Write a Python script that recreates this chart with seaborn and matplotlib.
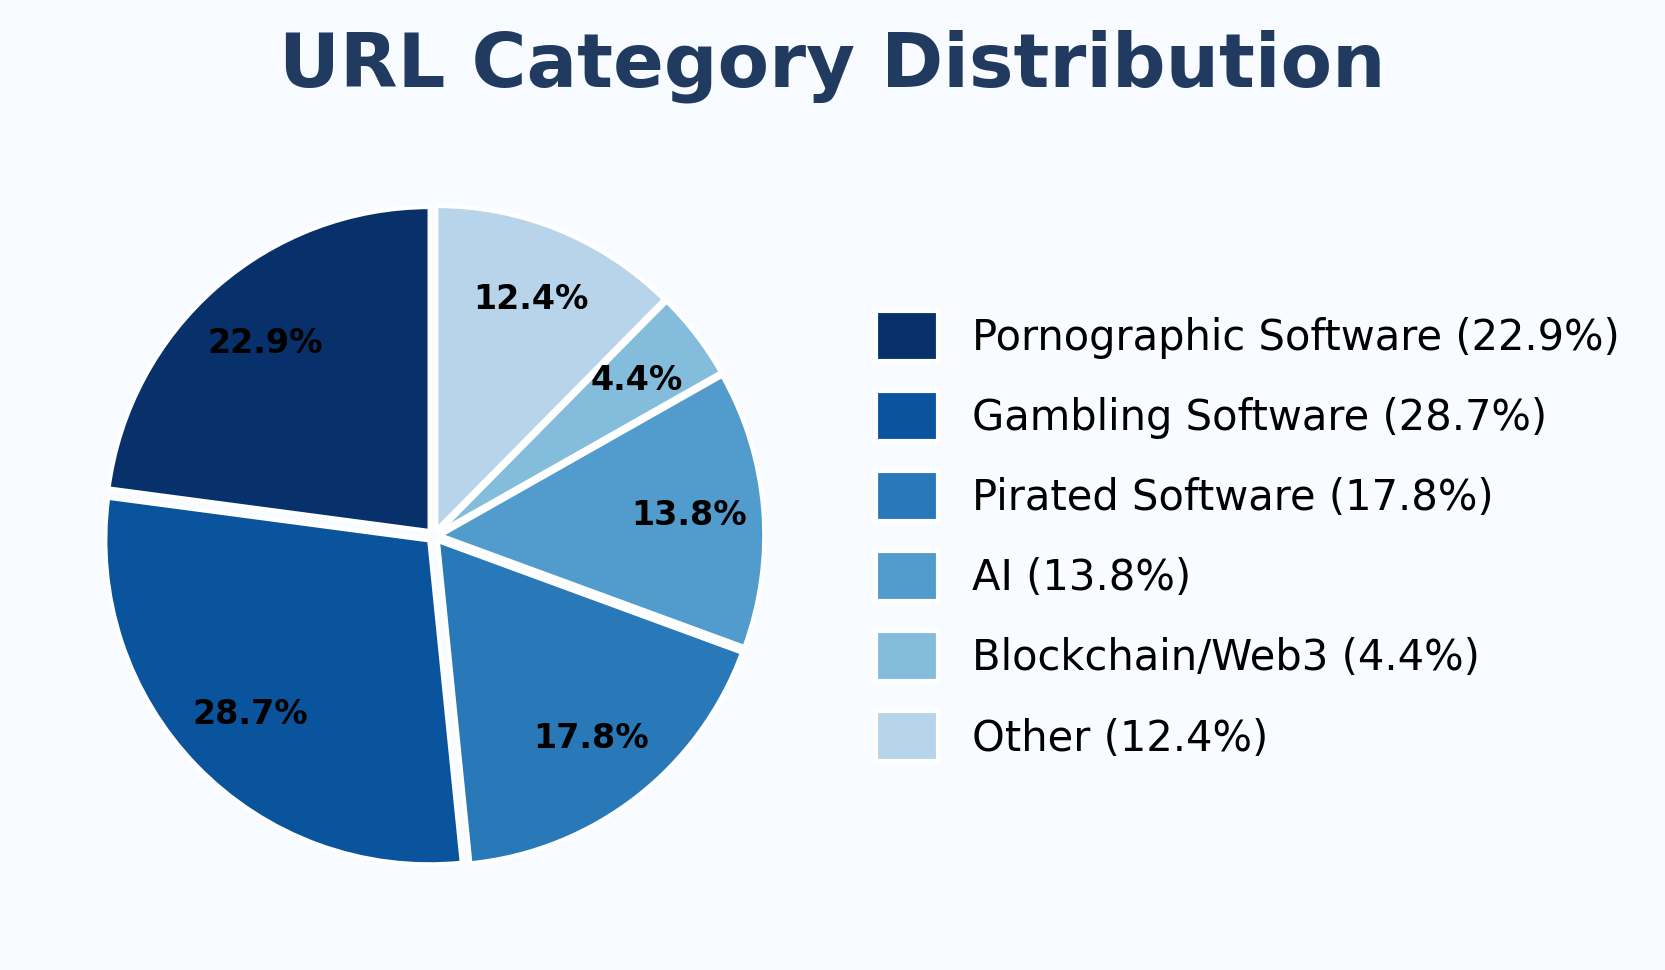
import numpy as np
import matplotlib
matplotlib.use("Agg")
import matplotlib.pyplot as plt
import seaborn as sns

# URL category shares (percent)
categories = ["Pornographic Software", "Gambling Software", "Pirated Software",
              "AI", "Blockchain/Web3", "Other"]
shares = [22.9, 28.7, 17.8, 13.8, 4.4, 12.4]

sns.set_theme(style="white")
plt.rcParams['font.family'] = ['DejaVu Sans']

bg = '#f8fbff'
colors = plt.cm.Blues(np.linspace(1.0, 0.3, len(shares)))
legend_labels = [f"{c} ({s}%)" for c, s in zip(categories, shares)]

fig = plt.figure(figsize=(11.1, 6.47), dpi=150, facecolor=bg)
ax = fig.add_axes([0.0466, 0.08, 0.428, 0.7346])
ax.set_facecolor(bg)

wedges, texts, autotexts = ax.pie(
    shares,
    colors=colors,
    startangle=90,
    explode=[0.02] * len(shares),
    autopct='%1.1f%%',
    pctdistance=0.77,
    wedgeprops=dict(edgecolor='white', linewidth=2),
    textprops=dict(fontsize=16, fontweight='bold', color='black'),
)
ax.set_xlim(-1.1, 1.1)
ax.set_ylim(-1.1, 1.1)
ax.set_aspect('equal')
ax.axis('off')

fig.legend(wedges, legend_labels, loc='center left',
           bbox_to_anchor=(0.526, 0.447), frameon=False, fontsize=20,
           labelcolor='black',
           handlelength=1.5, handleheight=1.47, handletextpad=0.8,
           labelspacing=0.72, borderaxespad=0, borderpad=0)

fig.suptitle("URL Category Distribution", fontsize=36, fontweight='bold',
             color='#213a5f', y=0.9695)

fig.savefig("out.png", dpi=150, facecolor=bg)
